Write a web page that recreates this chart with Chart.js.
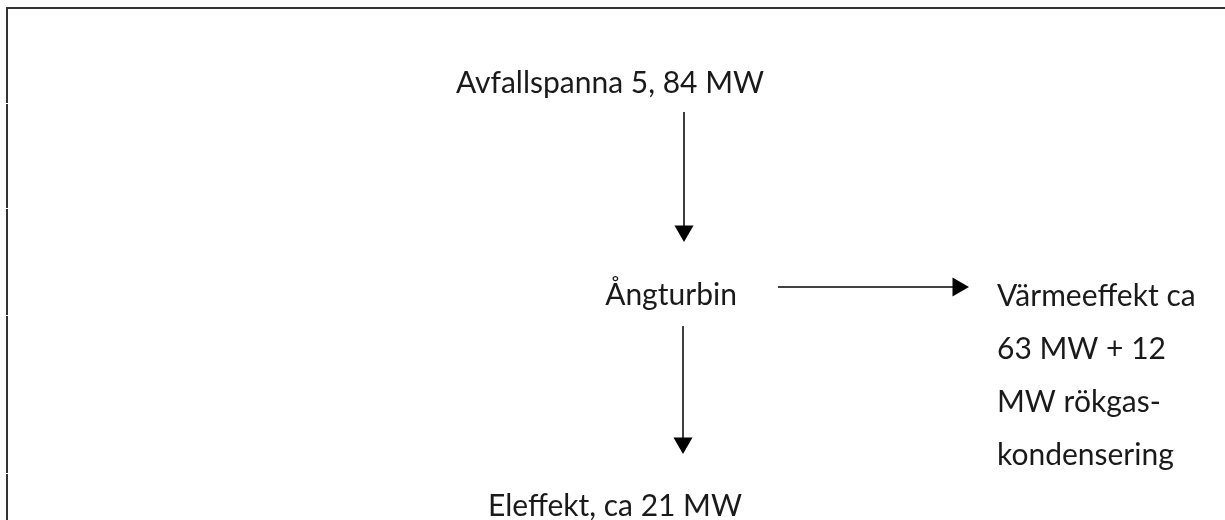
<!DOCTYPE html>
<html>
<head>
<meta charset="utf-8">
<script src="https://cdn.jsdelivr.net/npm/chart.js@4.4.1/dist/chart.umd.min.js"></script>
<style>
    html, body { margin: 0; padding: 0; background: #fff; }
    #wrap { width: 1225px; height: 520px; }
</style>
</head>
<body>
<div id="wrap"><canvas id="flowChart" width="1225" height="520"></canvas></div>
<script>
// Flow diagram: waste boiler -> steam turbine -> heat / electricity
// Diagram units run 0..1225 across and 0..520 down (top-left origin)

const nodeLabels = [
    ['Avfallspanna 5, 84 MW'],
    ['Ångturbin'],
    ['Värmeeffekt ca', '63 MW + 12', 'MW rökgas-', 'kondensering'],
    ['Eleffekt, ca 21 MW']
];
const nodeX = [610, 671, 997, 615];
const nodeY = [93, 305, 306, 516];
const nodeAlign = ['center', 'center', 'left', 'center'];

// arrows: start point and tip
const arrowStart = [[684, 112], [683, 326], [778, 287]];
const arrowTip = [[684, 242], [683, 454], [969, 287]];
const arrowAngle = [180, 180, 90];

const HEAD = 11;
const FONT = '30px Lato';

const arrowSets = arrowStart.map(function (s, i) {
    const t = arrowTip[i];
    // arrow head is centred on its centroid, so stop the line there
    const dx = Math.sign(t[0] - s[0]) * HEAD;
    const dy = Math.sign(t[1] - s[1]) * HEAD;
    return {
        data: [{ x: s[0], y: s[1] }, { x: t[0] - dx, y: t[1] - dy }],
        showLine: true,
        borderColor: '#000',
        borderWidth: 1.5,
        backgroundColor: '#000',
        pointStyle: 'triangle',
        pointRadius: [0, HEAD],
        pointHoverRadius: [0, HEAD],
        pointBorderWidth: 0,
        pointRotation: arrowAngle[i]
    };
});

const framePlugin = {
    id: 'frame',
    beforeDatasetsDraw(chart) {
        const ctx = chart.ctx;
        ctx.save();
        ctx.strokeStyle = '#333';
        ctx.lineWidth = 2;
        ctx.beginPath();
        ctx.moveTo(7, 520);
        ctx.lineTo(7, 8);
        ctx.lineTo(1225, 8);
        ctx.stroke();
        ctx.fillStyle = '#fff';
        [103, 208, 315, 473].forEach(y => ctx.fillRect(5, y, 4, 1));
        ctx.restore();
    }
};

const labelPlugin = {
    id: 'nodeLabels',
    afterDatasetsDraw(chart) {
        const ctx = chart.ctx;
        const xs = chart.scales.x, ys = chart.scales.y;
        ctx.save();
        ctx.font = FONT;
        ctx.fillStyle = '#1a1a1a';
        ctx.textBaseline = 'alphabetic';
        nodeLabels.forEach(function (lines, i) {
            ctx.textAlign = nodeAlign[i];
            lines.forEach(function (line, j) {
                ctx.fillText(line, xs.getPixelForValue(nodeX[i]), ys.getPixelForValue(nodeY[i] + j * 53));
            });
        });
        ctx.restore();
    }
};

new Chart(document.getElementById('flowChart').getContext('2d'), {
    type: 'scatter',
    data: { datasets: arrowSets },
    options: {
        responsive: false,
        animation: false,
        layout: { padding: 0, autoPadding: false },
        plugins: { legend: { display: false }, tooltip: { enabled: false } },
        scales: {
            x: { display: false, min: 0, max: 1225 },
            y: { display: false, min: 0, max: 520, reverse: true }
        }
    },
    plugins: [framePlugin, labelPlugin]
});
</script>
</body>
</html>
